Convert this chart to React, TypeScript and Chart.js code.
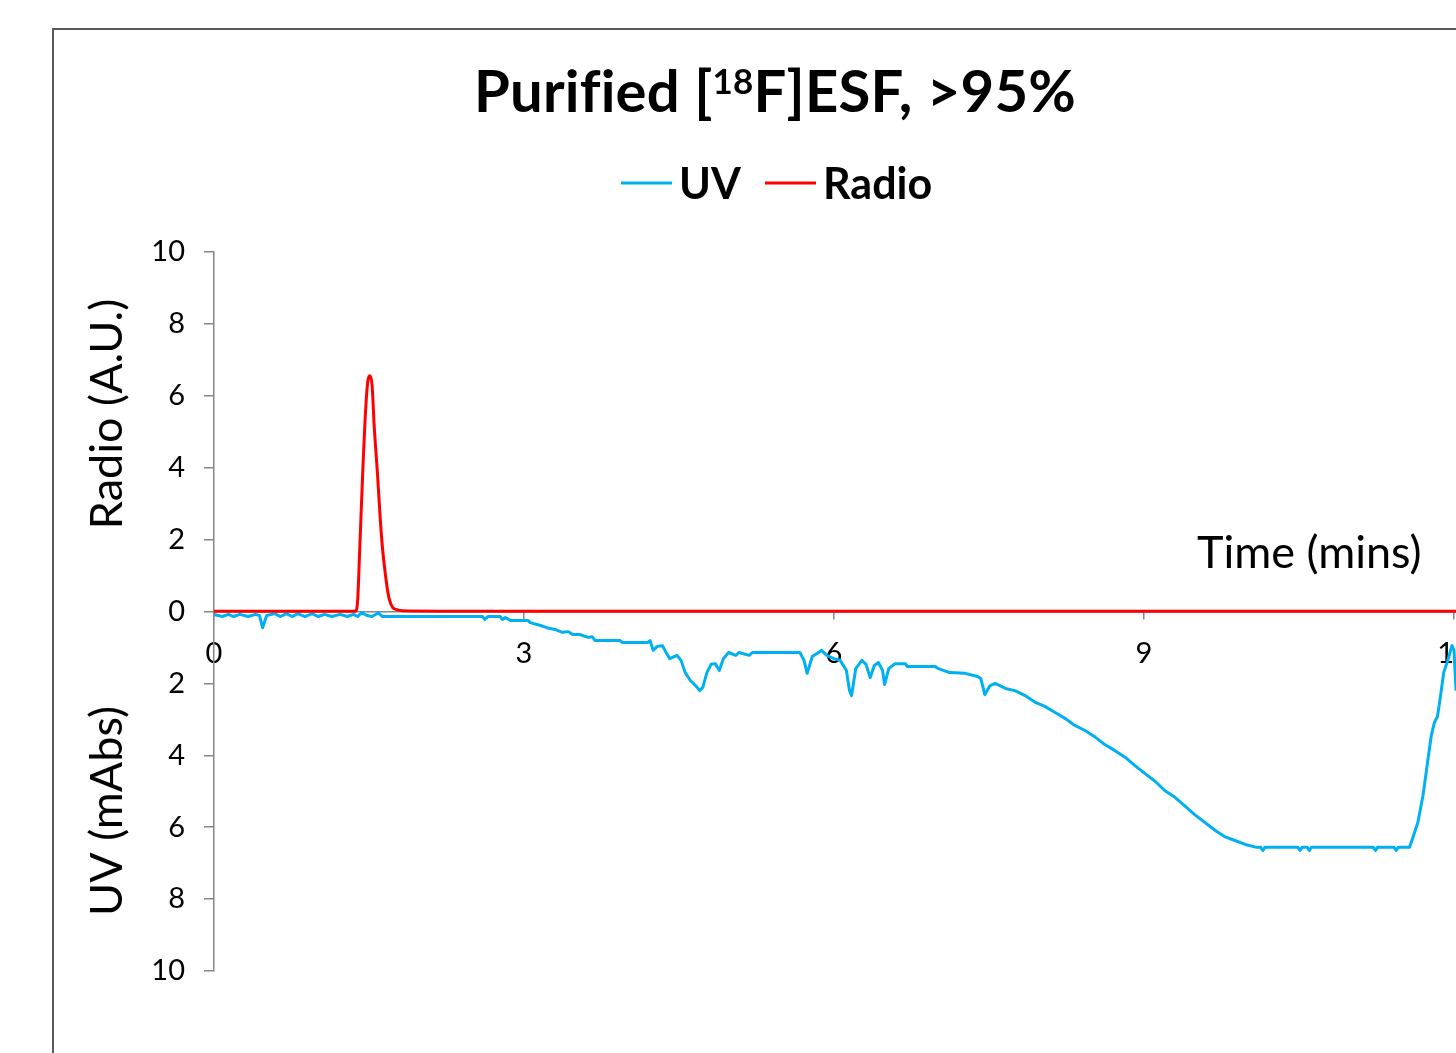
import React, { useEffect, useRef } from "react";
import { Chart, registerables } from "chart.js";

Chart.register(...registerables);

// ---- Data ----
const uvTime = [
  0.0, 0.08, 0.14, 0.19, 0.25, 0.33, 0.4, 0.44, 0.47, 0.51, 0.59, 0.64, 0.7, 0.76, 0.81, 0.88, 0.95, 1.01, 1.07, 1.14,
  1.22, 1.29, 1.35, 1.39, 1.43, 1.48, 1.53, 1.59, 1.63, 2.6, 2.62, 2.65, 2.77, 2.79, 2.82, 2.87, 3.04, 3.06, 3.16, 3.22,
  3.3, 3.37, 3.43, 3.47, 3.54, 3.62, 3.66, 3.69, 3.93, 3.95, 4.2, 4.22, 4.25, 4.29, 4.34, 4.38, 4.41, 4.48, 4.52, 4.56,
  4.61, 4.67, 4.7, 4.73, 4.77, 4.81, 4.85, 4.89, 4.93, 4.98, 5.05, 5.08, 5.18, 5.21, 5.67, 5.71, 5.74, 5.79, 5.85, 5.88,
  5.93, 6.0, 6.06, 6.12, 6.15, 6.17, 6.21, 6.27, 6.31, 6.35, 6.39, 6.43, 6.47, 6.49, 6.53, 6.59, 6.69, 6.71, 6.98, 7.01,
  7.12, 7.27, 7.39, 7.42, 7.46, 7.51, 7.56, 7.66, 7.75, 7.85, 7.95, 8.04, 8.14, 8.24, 8.33, 8.43, 8.53, 8.62, 8.72, 8.82,
  8.91, 9.01, 9.11, 9.2, 9.3, 9.4, 9.49, 9.59, 9.69, 9.78, 9.88, 9.98, 10.09, 10.13, 10.15, 10.17, 10.49, 10.51, 10.53,
  10.58, 10.6, 10.62, 11.22, 11.24, 11.26, 11.42, 11.44, 11.46, 11.57, 11.6, 11.65, 11.7, 11.74, 11.78, 11.81, 11.84,
  11.87, 11.9, 11.94, 11.98, 12.0, 12.02,
];
const uvValue = [
  -0.08, -0.14, -0.08, -0.14, -0.08, -0.14, -0.08, -0.11, -0.45, -0.11, -0.06, -0.14, -0.06, -0.14, -0.06, -0.14, -0.06,
  -0.14, -0.08, -0.14, -0.08, -0.14, -0.08, -0.14, -0.03, -0.11, -0.14, -0.04, -0.14, -0.14, -0.22, -0.14, -0.14, -0.22,
  -0.17, -0.25, -0.25, -0.31, -0.39, -0.45, -0.5, -0.58, -0.56, -0.64, -0.64, -0.72, -0.7, -0.81, -0.81, -0.86, -0.86,
  -0.81, -1.08, -0.97, -0.95, -1.17, -1.31, -1.22, -1.36, -1.7, -1.92, -2.09, -2.2, -2.11, -1.7, -1.47, -1.45, -1.64,
  -1.31, -1.14, -1.22, -1.14, -1.22, -1.14, -1.14, -1.36, -1.72, -1.25, -1.14, -1.08, -1.22, -1.31, -1.36, -1.64, -2.2,
  -2.34, -1.59, -1.36, -1.47, -1.84, -1.5, -1.42, -1.64, -2.03, -1.59, -1.45, -1.45, -1.53, -1.53, -1.59, -1.7, -1.72,
  -1.81, -1.86, -2.31, -2.06, -2.0, -2.14, -2.2, -2.34, -2.53, -2.64, -2.81, -2.98, -3.17, -3.31, -3.5, -3.7, -3.87,
  -4.06, -4.28, -4.51, -4.73, -4.98, -5.17, -5.42, -5.65, -5.87, -6.09, -6.26, -6.37, -6.48, -6.56, -6.56, -6.65, -6.56,
  -6.56, -6.65, -6.56, -6.56, -6.65, -6.56, -6.56, -6.65, -6.56, -6.56, -6.65, -6.56, -6.56, -6.31, -5.87, -5.12, -4.28,
  -3.45, -3.09, -2.92, -2.34, -1.7, -1.36, -0.95, -1.08, -2.2,
];
const radioTime = [0, 1.37, 1.39, 1.41, 1.44, 1.47, 1.49, 1.51, 1.53, 1.55, 1.58, 1.61, 1.63, 1.66, 1.68, 1.7, 1.73, 1.77, 1.82, 2.2, 12.05];
const radioValue = [0.01, 0.01, 0.3, 1.7, 3.92, 5.73, 6.43, 6.56, 6.29, 5.17, 3.92, 2.53, 1.78, 1.0, 0.58, 0.3, 0.11, 0.05, 0.02, 0.01, 0.01];

const xTickValues = [0, 3, 6, 9, 12, 15];
const yTickValues = [-10, -8, -6, -4, -2, 0, 2, 4, 6, 8, 10];

const seriesNames = ["UV", "Radio"];
const seriesColors = ["#00B0F0", "#FF0000"];
const titlePre = "Purified [";
const titleSup = "18";
const titlePost = "F]ESF, >95%";
const yTitleUpper = "Radio (A.U.)";
const yTitleLower = "UV (mAbs)";
const xTitle = "Time (mins)";

const FONT = "Lato, 'Open Sans', sans-serif";
const W = 1800;
const H = 1100;

const framePlugin = {
  id: "frame",
  beforeDraw(chart: any) {
    const ctx = chart.ctx;
    ctx.save();
    ctx.fillStyle = "#fff";
    ctx.fillRect(0, 0, chart.width, chart.height);
    ctx.strokeStyle = "#5a5a5a";
    ctx.lineWidth = 2;
    ctx.beginPath();
    ctx.moveTo(53, chart.height);
    ctx.lineTo(53, 29);
    ctx.lineTo(chart.width, 29);
    ctx.stroke();
    ctx.restore();
  },
};

const textPlugin = {
  id: "texts",
  afterDraw(chart: any) {
    const ctx = chart.ctx;
    ctx.save();
    ctx.fillStyle = "#000";
    ctx.textBaseline = "alphabetic";
    // Title with superscript
    (ctx as any).letterSpacing = "0.2px";
    const mainF = `bold 58px ${FONT}`;
    const supF = `bold 35px ${FONT}`;
    ctx.font = mainF;
    const w1 = ctx.measureText(titlePre).width;
    const w3 = ctx.measureText(titlePost).width;
    ctx.font = supF;
    const w2 = ctx.measureText(titleSup).width;
    let x = 775 - (w1 + w2 + w3) / 2;
    ctx.textAlign = "left";
    ctx.font = mainF;
    ctx.fillText(titlePre, x, 112);
    x += w1;
    ctx.font = supF;
    ctx.fillText(titleSup, x, 94);
    x += w2;
    ctx.font = mainF;
    ctx.fillText(titlePost, x, 112);
    (ctx as any).letterSpacing = "0px";

    // Legend
    const legF = `bold 43px ${FONT}`;
    ctx.font = legF;
    const legX = [621, 765];
    seriesNames.forEach((name, i) => {
      ctx.strokeStyle = seriesColors[i];
      ctx.lineWidth = 3;
      ctx.beginPath();
      ctx.moveTo(legX[i], 183);
      ctx.lineTo(legX[i] + 51, 183);
      ctx.stroke();
      ctx.fillText(name, legX[i] + 58, 199);
    });

    // Axis titles
    const axF = `45px ${FONT}`;
    ctx.font = axF;
    ctx.fillText(xTitle, 1197, 568);
    ctx.textAlign = "center";
    ctx.save();
    ctx.translate(122, 414);
    ctx.rotate(-Math.PI / 2);
    ctx.fillText(yTitleUpper, 0, 0);
    ctx.restore();
    ctx.save();
    ctx.translate(122, 811);
    ctx.rotate(-Math.PI / 2);
    ctx.fillText(yTitleLower, 0, 0);
    ctx.restore();
    ctx.restore();
  },
};

export default function App() {
  const ref = useRef<HTMLCanvasElement>(null);
  useEffect(() => {
    if (!ref.current) return;
    const uvData = uvTime.map((t, i) => ({ x: t, y: uvValue[i] }));
    const radioData = radioTime.map((t, i) => ({ x: t, y: radioValue[i] }));
    const chart = new Chart(ref.current, {
      type: "line",
      data: {
        datasets: [
          {
            label: seriesNames[0],
            data: uvData,
            borderColor: seriesColors[0],
            borderWidth: 3,
            pointRadius: 0,
            tension: 0,
            borderJoinStyle: "round",
            order: 1,
          },
          {
            label: seriesNames[1],
            data: radioData,
            borderColor: seriesColors[1],
            borderWidth: 3,
            pointRadius: 0,
            cubicInterpolationMode: "monotone",
            borderJoinStyle: "round",
            order: 0,
          },
        ],
      },
      options: {
        responsive: false,
        animation: false,
        events: [],
        layout: { padding: { left: 0, top: 252, right: W - 1764, bottom: H - 971 } },
        plugins: {
          legend: { display: false },
          title: { display: false },
          tooltip: { enabled: false },
        },
        scales: {
          x: {
            type: "linear",
            min: 0,
            max: 15,
            position: { y: 0 } as any,
            afterFit: (s: any) => {
              s.height = 0;
            },
            afterBuildTicks: (s: any) => {
              s.ticks = xTickValues.map((v) => ({ value: v }));
            },
            ticks: {
              autoSkip: false,
              maxRotation: 0,
              color: "#000",
              font: { family: FONT, size: 29 },
              padding: 18,
            },
            grid: { drawOnChartArea: false, tickLength: 7, color: "#868686", lineWidth: 1.5 },
            border: { color: "#868686", width: 1.5 },
          },
          y: {
            type: "linear",
            min: -10,
            max: 10,
            position: "left",
            afterFit: (s: any) => {
              s.width = 214;
            },
            afterBuildTicks: (s: any) => {
              s.ticks = yTickValues.map((v) => ({ value: v }));
            },
            ticks: {
              color: "#000",
              font: { family: FONT, size: 29 },
              padding: 19,
              callback: (v: any) => String(Math.abs(Number(v))),
            },
            grid: { drawOnChartArea: false, tickLength: 10, color: "#868686", lineWidth: 1.5 },
            border: { color: "#868686", width: 1.5 },
          },
        },
      },
      plugins: [framePlugin, textPlugin],
    });
    return () => chart.destroy();
  }, []);

  return (
    <div
      style={{
        position: "fixed",
        left: 0,
        top: 0,
        width: 1456,
        height: 1053,
        overflow: "hidden",
        background: "#fff",
      }}
    >
      <canvas ref={ref} width={W} height={H} style={{ width: W, height: H, display: "block" }} />
    </div>
  );
}
